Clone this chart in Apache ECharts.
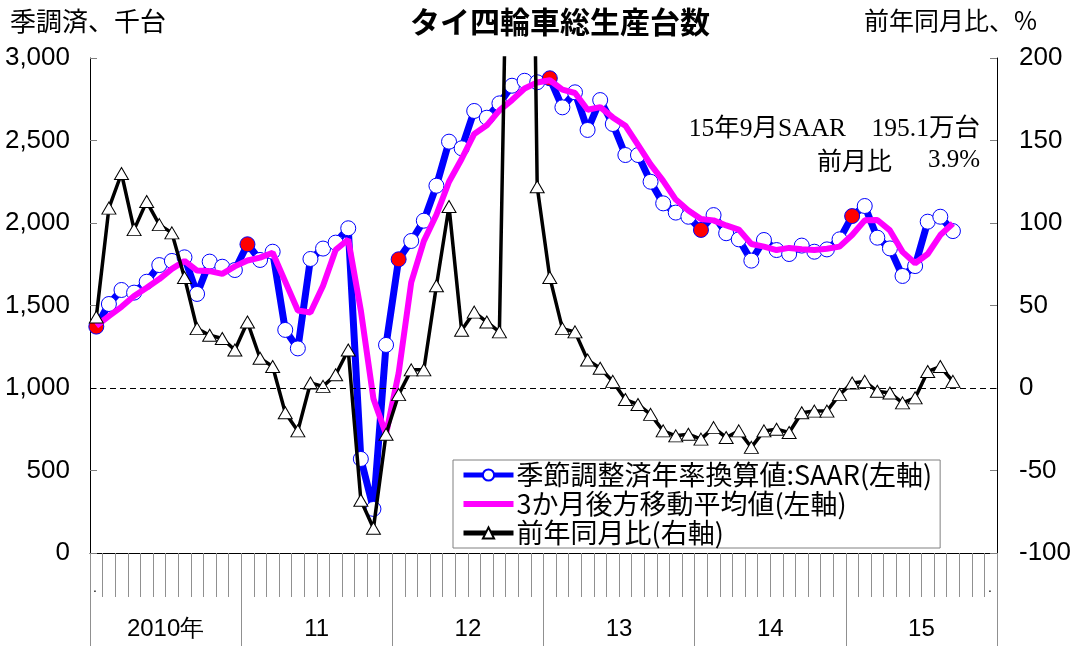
<!DOCTYPE html>
<html>
<head>
<meta charset="utf-8">
<script src="https://cdn.jsdelivr.net/npm/echarts@6/dist/echarts.min.js"></script>
<style>
html,body{margin:0;padding:0;background:#fff;}
#chart{width:1079px;height:646px;}
</style>
</head>
<body>
<div id="chart"></div>
<script>
// ---- data ----
var yearLabels = ['2010年', '11', '12', '13', '14', '15'];
var months = [];
for (var y = 2010; y <= 2015; y++) { for (var m = 1; m <= 12; m++) { months.push(y + '/' + m); } }

// SAAR (thousand units, left axis), Jan 2010 - Sep 2015
var saar = [1372,1509,1594,1578,1644,1745,1770,1792,1570,1766,1735,1715,
            1871,1776,1826,1352,1240,1782,1845,1881,1968,570,267,1261,
            1780,1891,2014,2226,2493,2453,2679,2638,2725,2832,2862,2853,
            2877,2701,2792,2564,2745,2600,2412,2412,2250,2119,2063,2038,
            1958,2048,1938,1901,1772,1897,1836,1812,1863,1826,1840,1901,
            2042,2103,1911,1846,1679,1739,2008,2038,1951];
// 3-month backward moving average (left axis)
var ma3 = [1376,1436,1492,1558,1608,1660,1722,1770,1712,1708,1692,1737,
           1773,1790,1820,1645,1470,1458,1620,1837,1900,1470,935,720,
           1090,1640,1890,2050,2250,2388,2540,2592,2683,2745,2815,2852,
           2865,2808,2788,2686,2702,2640,2590,2474,2355,2255,2142,2076,
           2024,2016,1985,1960,1873,1857,1836,1849,1841,1837,1844,1857,
           1927,2016,2018,1955,1825,1756,1812,1927,1997];
// year-on-year change (%, right axis)
var yoy = [43,109,130,96,113,99,94,67,36,32,30,23,
           40,18,13,-15,-26,3,1,8,23,-68,-85,-28,
           -4,11,11,62,110,35,46,40,34,450,700,122,
           67,36,34,17,12,4,-7,-10,-16,-26,-29,-28,
           -31,-24,-30,-26,-36,-26,-25,-27,-15,-14,-14,-4,
           3,4,-2,-3,-9,-6,10,13,4];

var seriesNames = ['季節調整済年率換算値:SAAR(左軸)', '3か月後方移動平均値(左軸)', '前年同月比(右軸)'];

var saarData = saar.map(function (v, i) {
  return (i % 12 === 0) ? { value: v, itemStyle: { color: '#ff0000' } } : v;
});

var numFont = "'Liberation Sans Narrow', 'Arial Narrow', 'Liberation Sans', Arial, sans-serif";
var jpFont = "'Noto Sans CJK JP', sans-serif";

var chart = echarts.init(document.getElementById('chart'));
chart.setOption({
  animation: false,
  backgroundColor: '#fff',
  grid: { left: 90, right: 82, top: 58, bottom: 93, containLabel: false },
  legend: {
    orient: 'vertical',
    left: 453, top: 460,
    itemWidth: 50, itemHeight: 14, itemGap: 1,
    padding: [1, 8, 1, 8],
    borderColor: '#808080', borderWidth: 1,
    backgroundColor: '#fff',
    textStyle: { fontSize: 27, lineHeight: 28, fontFamily: jpFont, color: '#000', padding: [0, 0, 0, -2] },
    data: [
      { name: seriesNames[0], lineStyle: { width: 5 } },
      { name: seriesNames[1], icon: 'path://M0,0 L50,0 L50,6 L0,6 Z' },
      { name: seriesNames[2], lineStyle: { width: 5 } }
    ]
  },
  xAxis: [
    {
      type: 'category', data: months, boundaryGap: true, position: 'bottom',
      axisLine: { show: true, onZero: false, lineStyle: { color: '#000', width: 1 } },
      axisTick: { show: true, inside: false, interval: 0, length: 44, lineStyle: { color: '#909090', width: 1 } },
      axisLabel: { show: false },
      splitLine: { show: false }
    },
    {
      type: 'category', data: yearLabels, boundaryGap: true, position: 'bottom', offset: 0,
      axisLine: { show: false, onZero: false },
      axisTick: { show: true, inside: false, interval: 0, length: 93, lineStyle: { color: '#909090', width: 1 } },
      axisLabel: { show: true, interval: 0, margin: 64, fontSize: 24, fontFamily: numFont, color: '#000' },
      splitLine: { show: false }
    }
  ],
  yAxis: [
    {
      type: 'value', min: 0, max: 3000, interval: 500, position: 'left',
      axisLine: { show: true, onZero: false, lineStyle: { color: '#000', width: 1 } },
      axisTick: { show: true, inside: true, length: 7, lineStyle: { color: '#808080' } },
      axisLabel: {
        margin: 20, fontSize: 26, fontFamily: numFont, color: '#000',
        formatter: function (v) { return v.toLocaleString('en-US'); }
      },
      splitLine: { show: false }
    },
    {
      type: 'value', min: -100, max: 200, interval: 50, position: 'right',
      axisLine: { show: true, onZero: false, lineStyle: { color: '#000', width: 1 } },
      axisTick: { show: true, inside: true, length: 7, lineStyle: { color: '#808080' } },
      axisLabel: { margin: 22, fontSize: 26, fontFamily: numFont, color: '#000' },
      splitLine: { show: false }
    }
  ],
  series: [
    {
      name: seriesNames[0], type: 'line', xAxisIndex: 0, yAxisIndex: 0,
      data: saarData, z: 2,
      symbol: 'circle', symbolSize: 15, showAllSymbol: true,
      lineStyle: { color: '#0000ff', width: 7 },
      itemStyle: { color: '#ffffff', borderColor: '#0000ff', borderWidth: 1 }
    },
    {
      name: seriesNames[1], type: 'line', xAxisIndex: 0, yAxisIndex: 0,
      data: ma3, z: 3,
      symbol: 'none',
      lineStyle: { color: '#ff00ff', width: 6 },
      itemStyle: { color: '#ff00ff' }
    },
    {
      name: seriesNames[2], type: 'line', xAxisIndex: 0, yAxisIndex: 1,
      data: yoy, z: 4, clip: true,
      symbol: 'triangle', symbolSize: [14, 12], showAllSymbol: true,
      lineStyle: { color: '#000000', width: 3.5 },
      itemStyle: { color: '#ffffff', borderColor: '#000000', borderWidth: 1 },
      markLine: {
        silent: true, symbol: 'none', label: { show: false },
        lineStyle: { color: '#000', width: 1, type: [6, 4] },
        data: [{ yAxis: 0 }]
      }
    }
  ],
  graphic: [
    { type: 'text', left: 410, top: 7, style: { text: 'タイ四輪車総生産台数', font: 'bold 30px ' + jpFont, fill: '#000' } },
    { type: 'text', left: 10, top: 8, style: { text: '季調済、千台', font: '26px ' + jpFont, fill: '#000' } },
    { type: 'text', left: 864, top: 8, style: { text: '前年同月比、%', font: '25px ' + jpFont, fill: '#000' } },
    { type: 'text', x: 980, y: 129, style: { text: '15年9月SAAR　195.1万台', font: '25.5px "Liberation Serif", "Noto Sans CJK JP", serif', fill: '#000', textAlign: 'right', textVerticalAlign: 'middle' } },
    { type: 'text', x: 817, y: 160, style: { text: '前月比', font: '25px "Noto Sans CJK JP", sans-serif', fill: '#000', textAlign: 'left', textVerticalAlign: 'middle' } },
    { type: 'text', x: 980, y: 160, style: { text: '3.9%', font: '25px "Liberation Serif", serif', fill: '#000', textAlign: 'right', textVerticalAlign: 'middle' } },
    { type: 'text', x: 95, y: 588, style: { text: '.', font: '14px sans-serif', fill: '#000', textAlign: 'center', textVerticalAlign: 'middle' } },
    { type: 'text', x: 990, y: 588, style: { text: '.', font: '14px sans-serif', fill: '#000', textAlign: 'center', textVerticalAlign: 'middle' } }
  ]
});
</script>
</body>
</html>
